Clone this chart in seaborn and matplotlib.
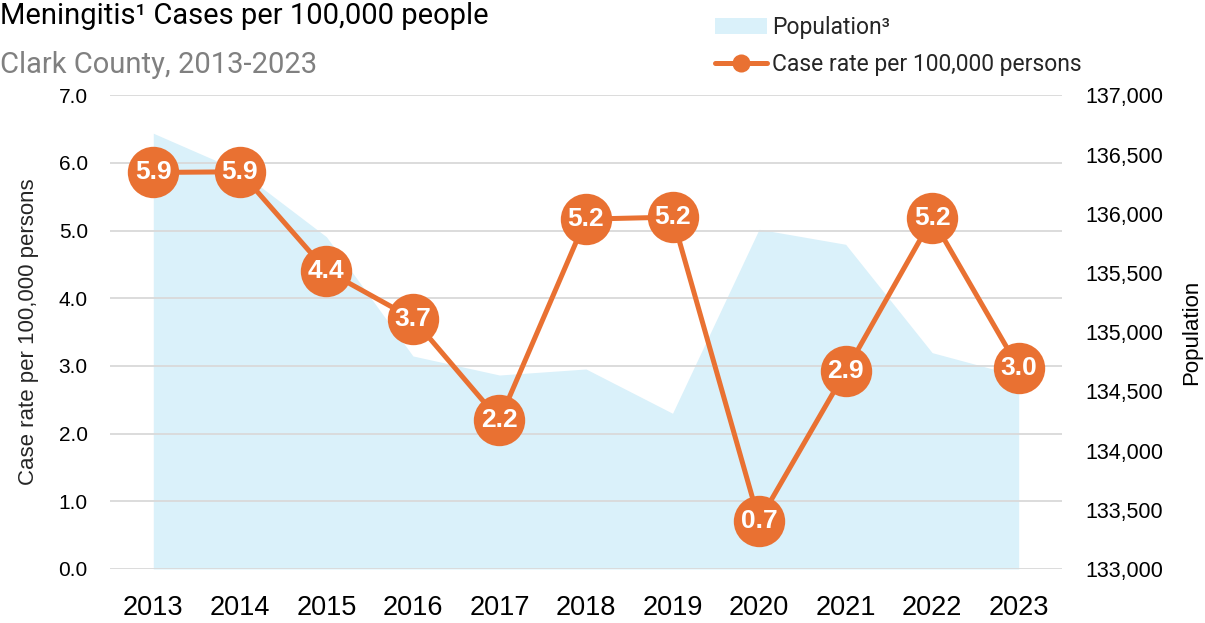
import numpy as np
import pandas as pd
import matplotlib.pyplot as plt
import seaborn as sns
from matplotlib.patches import Patch
from matplotlib.lines import Line2D
from matplotlib.ticker import FuncFormatter

# data
years = [2013, 2014, 2015, 2016, 2017, 2018, 2019, 2020, 2021, 2022, 2023]
case_rate = [5.86, 5.87, 4.41, 3.70, 2.20, 5.17, 5.20, 0.71, 2.92, 5.18, 2.97]
population = [136680, 136361, 135806, 134799, 134638, 134689, 134315,
              135869, 135742, 134827, 134630]

df = pd.DataFrame({"year": years, "rate": case_rate, "pop": population})

orange = "#E97132"
blue = "#DAF1FA"
grid = "#D9D9D9"

sns.set_theme(style="white")
plt.rcParams["font.family"] = ["Liberation Sans", "DejaVu Sans"]

fig = plt.figure(figsize=(12.05, 6.23), dpi=100)
ax = fig.add_axes([0.0913, 0.0867, 0.7900, 0.7603])
ax2 = ax.twinx()

# population area on the secondary axis (behind)
ax2.fill_between(df["year"], 133000, df["pop"], color=blue, linewidth=0)
ax2.set_ylim(133000, 137000)
ax2.set_yticks(np.arange(133000, 137001, 500))
ax2.yaxis.set_major_formatter(FuncFormatter(lambda v, p: f"{int(v):,}"))
ax2.set_ylabel("Population", fontsize=16, color="black")
ax2.yaxis.set_label_coords(1.125, 0.5)

# case rate line on the primary axis
ax.set_zorder(ax2.get_zorder() + 1)
ax.patch.set_visible(False)
sns.lineplot(data=df, x="year", y="rate", ax=ax, color=orange, linewidth=3.6,
             marker="o", markersize=37, markeredgewidth=0, zorder=3)
for x, r in zip(df["year"], df["rate"]):
    ax.text(x, r, f"{r:.1f}", color="white", fontsize=19, fontweight="bold",
            ha="center", va="center", zorder=4)

ax.set_ylim(0, 7)
ax.set_yticks(np.arange(0, 7.1, 1))
ax.yaxis.set_major_formatter(FuncFormatter(lambda v, p: f"{v:.1f}"))
ax.set_xlim(2012.5, 2023.5)
ax.set_xticks(years)
ax.set_xlabel("")
ax.set_ylabel("Case rate per 100,000 persons", fontsize=16, labelpad=14)
ax.grid(axis="y", color=grid, linewidth=1.3, zorder=0)
ax.set_axisbelow(True)

for a in (ax, ax2):
    for s in a.spines.values():
        s.set_visible(False)
ax.tick_params(axis="y", labelsize=15, length=0, pad=16, colors="black")
ax.tick_params(axis="x", labelsize=19.5, length=0, pad=19, colors="black")
ax2.tick_params(axis="y", labelsize=15.5, length=0, pad=17, colors="black")

# titles
fig.text(0.0, 0.997, "Meningitis\u00b9 Cases per 100,000 people", fontsize=21,
         family=["Roboto", "DejaVu Sans"], color="black", ha="left", va="top")
fig.text(0.0, 0.918, "Clark County, 2013-2023", fontsize=21,
         family=["Roboto", "DejaVu Sans"], color="#808080", ha="left", va="top")

# legend
handles = [Patch(facecolor=blue, edgecolor="none"),
           Line2D([0], [0], color=orange, linewidth=3.6, marker="o",
                  markersize=13, markeredgewidth=0)]
labels = ["Population\u00b3", "Case rate per 100,000 persons"]
fig.legend(handles, labels, loc="upper left", bbox_to_anchor=(0.593, 0.974),
           frameon=False, borderpad=0, borderaxespad=0,
           prop={"family": ["Roboto", "DejaVu Sans"], "size": 16.5},
           handlelength=2.3, handleheight=0.7, handletextpad=0.2,
           labelspacing=0.62)

fig.savefig("out.png", dpi=100)
